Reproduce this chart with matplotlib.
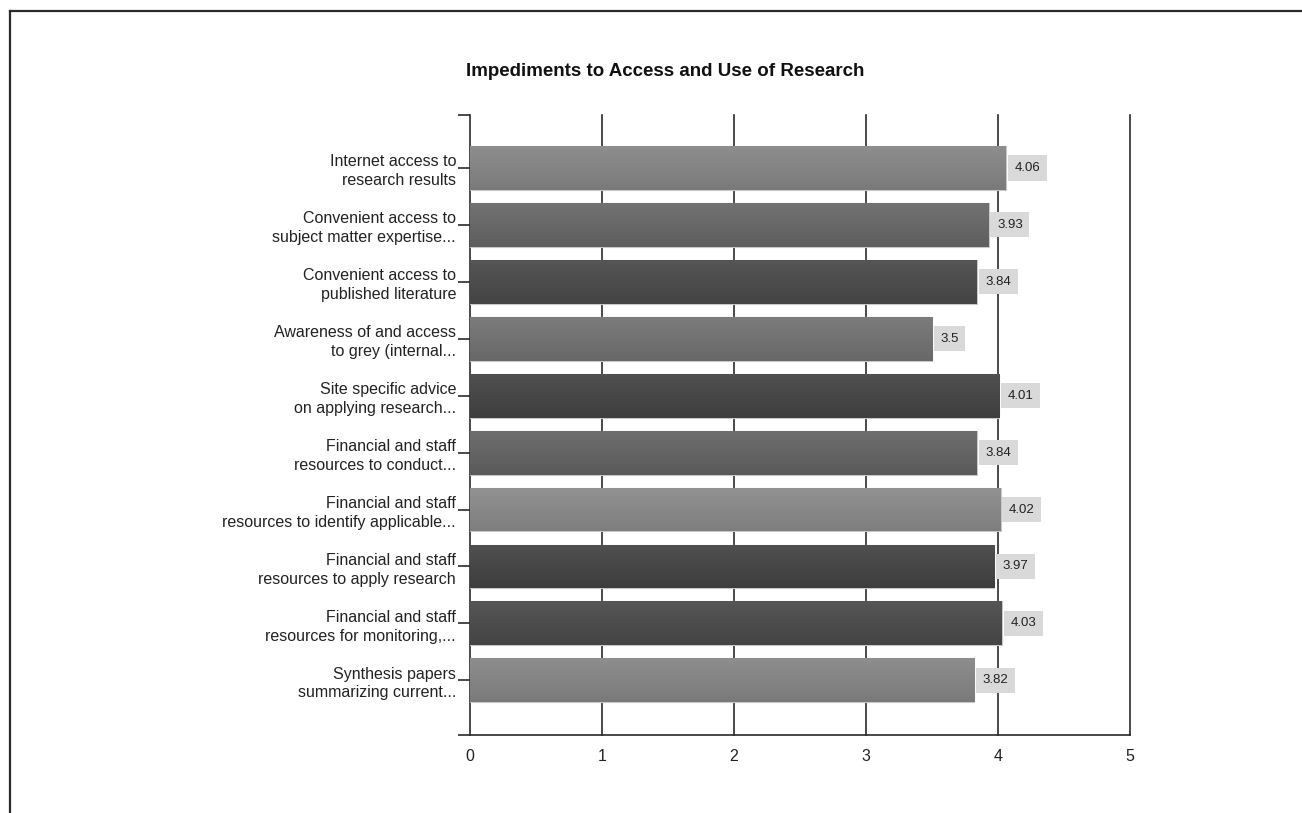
import matplotlib
matplotlib.use("Agg")
import matplotlib.pyplot as plt
import numpy as np

plt.rcParams['font.family'] = ['Liberation Sans', 'DejaVu Sans']

title = "Impediments to Access and Use of Research"
categories = [
    "Internet access to\nresearch results",
    "Convenient access to\nsubject matter expertise...",
    "Convenient access to\npublished literature",
    "Awareness of and access\nto grey (internal...",
    "Site specific advice\non applying research...",
    "Financial and staff\nresources to conduct...",
    "Financial and staff\nresources to identify applicable...",
    "Financial and staff\nresources to apply research",
    "Financial and staff\nresources for monitoring,...",
    "Synthesis papers\nsummarizing current...",
]
values = [4.06, 3.93, 3.84, 3.5, 4.01, 3.84, 4.02, 3.97, 4.03, 3.82]
value_labels = ["4.06", "3.93", "3.84", "3.5", "4.01", "3.84", "4.02", "3.97", "4.03", "3.82"]
bar_top_colors = ["#8e8e8e", "#727272", "#555555", "#7c7c7c", "#505050",
                  "#6e6e6e", "#929292", "#505050", "#555555", "#8e8e8e"]
bar_bot_colors = ["#7a7a7a", "#5e5e5e", "#444444", "#686868", "#3e3e3e",
                  "#5a5a5a", "#7e7e7e", "#3e3e3e", "#444444", "#7a7a7a"]
xticks = [0, 1, 2, 3, 4, 5]

W, H = 1302, 813
fig = plt.figure(figsize=(W / 100, H / 100), dpi=100)

# outer frame
fig.add_artist(plt.Line2D([10 / W, 1.0], [1 - 11 / H, 1 - 11 / H], transform=fig.transFigure,
                          color="#2a2a2a", lw=1.6))
fig.add_artist(plt.Line2D([10 / W, 10 / W], [1 - 11 / H, 0.0], transform=fig.transFigure,
                          color="#2a2a2a", lw=1.6))

ax = fig.add_axes([470 / W, 1 - 735 / H, (1130 - 470) / W, (735 - 115) / H])

y = np.arange(len(categories))
bars = ax.barh(y, values, height=0.77, color=bar_top_colors, edgecolor="#c8c8c8",
               linewidth=0.8, zorder=3)

# vertical gradient on each bar
for b, ct, cb in zip(bars, bar_top_colors, bar_bot_colors):
    x0, y0, w, h = b.get_x(), b.get_y(), b.get_width(), b.get_height()
    c1 = np.array(matplotlib.colors.to_rgb(ct))
    c2 = np.array(matplotlib.colors.to_rgb(cb))
    t = np.linspace(0, 1, 50)[:, None]
    grad = (c1[None, :] * (1 - t) + c2[None, :] * t)[:, None, :]
    im = ax.imshow(grad, extent=[x0, x0 + w, y0 + h, y0], aspect="auto", zorder=3.5,
                   interpolation="bilinear")
    im.set_clip_path(b)

ax.set_xlim(0, 5)
ax.set_ylim(len(categories) - 1 + 0.96, -0.93)

for xv in xticks[1:]:
    ax.axvline(xv, color="#2a2a2a", lw=1.2, zorder=1, clip_on=False)

ax.set_xticks(xticks)
ax.set_xticklabels([str(v) for v in xticks], fontsize=11.5)
ax.tick_params(axis="x", length=0, pad=10, colors="#222222")

ax.set_yticks(y)
ax.set_yticklabels(categories, fontsize=11.5, linespacing=1.3)
ax.set_yticks([-0.93, len(categories) - 1 + 0.96], minor=True)
ax.tick_params(axis="y", which="both", length=9, width=1.2, pad=1, color="#2a2a2a",
               labelcolor="#222222")

for s in ["top", "right"]:
    ax.spines[s].set_visible(False)
for s in ["left", "bottom"]:
    ax.spines[s].set_color("#2a2a2a")
    ax.spines[s].set_linewidth(1.2)

for yi, v, lab in zip(y, values, value_labels):
    ax.annotate(lab, xy=(v, yi), xytext=(6, 0), textcoords="offset points",
                ha="left", va="center", fontsize=9.5, color="#222222", zorder=5,
                bbox=dict(boxstyle="square,pad=0.5", fc="#d9d9d9", ec="none"))

fig.text(665 / W, 1 - 72 / H, title, ha="center", va="center", fontsize=13.5,
         fontweight="bold", color="#111111")

fig.savefig("out.png", dpi=100)
